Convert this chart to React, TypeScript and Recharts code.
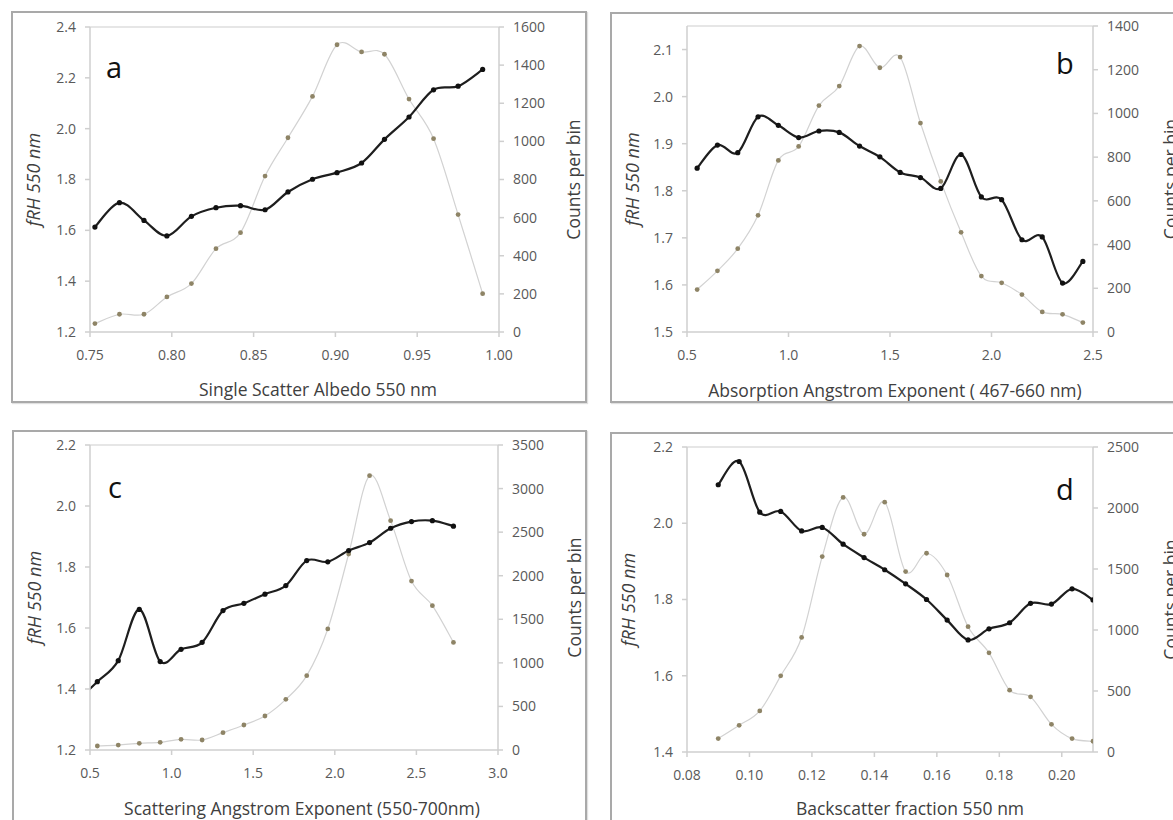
import React from 'react';
import { ComposedChart, Line, XAxis, YAxis, ReferenceLine, Label } from 'recharts';

// ---- Panel a: Single Scatter Albedo 550 nm ----
const albedoX = [0.753, 0.768, 0.783, 0.797, 0.812, 0.827, 0.842, 0.857, 0.871, 0.886, 0.901, 0.916, 0.930, 0.945, 0.960, 0.975, 0.990];
const albedoFRH = [1.613, 1.709, 1.639, 1.578, 1.655, 1.689, 1.697, 1.681, 1.751, 1.801, 1.827, 1.865, 1.958, 2.046, 2.153, 2.167, 2.233];
const albedoCounts = [44, 93, 93, 184, 254, 437, 521, 818, 1019, 1236, 1507, 1469, 1457, 1222, 1014, 616, 201];
const albedoXTicks = [0.75, 0.8, 0.85, 0.9, 0.95, 1.0];
const albedoLTicks = [1.2, 1.4, 1.6, 1.8, 2.0, 2.2, 2.4];
const albedoRTicks = [0, 200, 400, 600, 800, 1000, 1200, 1400, 1600];

// ---- Panel b: Absorption Angstrom Exponent ----
const aaeX = [0.55, 0.65, 0.75, 0.85, 0.95, 1.05, 1.15, 1.25, 1.35, 1.45, 1.55, 1.65, 1.75, 1.85, 1.95, 2.05, 2.15, 2.25, 2.35, 2.45];
const aaeFRH = [1.848, 1.897, 1.881, 1.957, 1.939, 1.913, 1.927, 1.924, 1.895, 1.872, 1.839, 1.828, 1.805, 1.877, 1.787, 1.781, 1.696, 1.702, 1.604, 1.650];
const aaeCounts = [194, 280, 381, 534, 785, 849, 1036, 1125, 1308, 1209, 1258, 956, 689, 456, 256, 225, 171, 92, 81, 43];
const aaeXTicks = [0.5, 1.0, 1.5, 2.0, 2.5];
const aaeLTicks = [1.5, 1.6, 1.7, 1.8, 1.9, 2.0, 2.1];
const aaeRTicks = [0, 200, 400, 600, 800, 1000, 1200, 1400];

// ---- Panel c: Scattering Angstrom Exponent ----
const saeX = [0.417, 0.545, 0.673, 0.802, 0.930, 1.058, 1.187, 1.315, 1.443, 1.572, 1.700, 1.828, 1.957, 2.085, 2.213, 2.342, 2.470, 2.598, 2.727];
const saeFRH = [1.36, 1.424, 1.493, 1.661, 1.490, 1.530, 1.553, 1.657, 1.681, 1.711, 1.739, 1.821, 1.817, 1.854, 1.880, 1.927, 1.949, 1.952, 1.934];
const saeCounts = [null, 46, 57, 77, 88, 122, 115, 199, 287, 390, 581, 853, 1389, 2249, 3148, 2632, 1939, 1656, 1235];
const saeXTicks = [0.5, 1.0, 1.5, 2.0, 2.5, 3.0];
const saeLTicks = [1.2, 1.4, 1.6, 1.8, 2.0, 2.2];
const saeRTicks = [0, 500, 1000, 1500, 2000, 2500, 3000, 3500];

// ---- Panel d: Backscatter fraction 550 nm ----
const bsfX = [0.0900, 0.0967, 0.1033, 0.1100, 0.1167, 0.1233, 0.1300, 0.1367, 0.1433, 0.1500, 0.1567, 0.1633, 0.1700, 0.1767, 0.1833, 0.1900, 0.1967, 0.2033, 0.2100];
const bsfFRH = [2.101, 2.162, 2.029, 2.031, 1.980, 1.989, 1.945, 1.910, 1.878, 1.841, 1.800, 1.746, 1.694, 1.723, 1.739, 1.790, 1.788, 1.828, 1.799];
const bsfCounts = [110, 219, 337, 624, 939, 1602, 2087, 1785, 2048, 1479, 1629, 1451, 1027, 813, 507, 452, 227, 110, 88];
const bsfXTicks = [0.08, 0.1, 0.12, 0.14, 0.16, 0.18, 0.2];
const bsfLTicks = [1.4, 1.6, 1.8, 2.0, 2.2];
const bsfRTicks = [0, 500, 1000, 1500, 2000, 2500];

const build = (xs: number[], f: (number | null)[], c: (number | null)[]) =>
  xs.map((x, i) => ({ x, frh: f[i], counts: c[i] }));

// Excel-like smoothed line (Catmull-Rom via cubic Bezier)
const excelSmooth = (context: any) => {
  let pts: number[][] = [];
  return {
    areaStart() {},
    areaEnd() {},
    lineStart() {
      pts = [];
    },
    lineEnd() {
      const n = pts.length;
      if (!n) return;
      context.moveTo(pts[0][0], pts[0][1]);
      if (n === 1) {
        context.lineTo(pts[0][0], pts[0][1]);
        return;
      }
      for (let i = 0; i < n - 1; i++) {
        const p0 = pts[i > 0 ? i - 1 : i];
        const p1 = pts[i];
        const p2 = pts[i + 1];
        const p3 = pts[i + 2 < n ? i + 2 : i + 1];
        context.bezierCurveTo(
          p1[0] + (p2[0] - p0[0]) / 6,
          p1[1] + (p2[1] - p0[1]) / 6,
          p2[0] - (p3[0] - p1[0]) / 6,
          p2[1] - (p3[1] - p1[1]) / 6,
          p2[0],
          p2[1]
        );
      }
    },
    point(x: number, y: number) {
      pts.push([+x, +y]);
    },
  };
};

const FONT = '"Open Sans", "DejaVu Sans", sans-serif';
const TICK = { fill: '#595959', fontSize: 14, fontFamily: FONT };
const AXIS_STROKE = '#cfcfcf';

type Cfg = {
  fx: number; fy: number; fw: number; fh: number;
  px0: number; px1: number; py0: number; py1: number;
  data: any[];
  xDomain: [number, number]; xTicks: number[]; xDec: number;
  lDomain: [number, number]; lTicks: number[]; lDec: number;
  rDomain: [number, number]; rTicks: number[];
  xTitle: string; xTitleCx: number; xTitleCy: number;
  lTitleCx: number; rTitleCx: number;
  letter: string; letterX: number; letterY: number;
};

const LW = 50;
const RW = 60;
const XH = 30;

const Panel = ({ c }: { c: Cfg }) => {
  const margin = {
    top: c.py0 - c.fy,
    left: c.px0 - c.fx - LW,
    right: c.fx + c.fw - c.px1 - RW,
    bottom: c.fy + c.fh - c.py1 - XH,
  };
  const midY = (c.py0 + c.py1) / 2 - c.fy;
  const lx = c.lTitleCx - c.fx;
  const rx = c.rTitleCx - c.fx;
  return (
    <>
      <div
        style={{
          position: 'absolute',
          left: c.fx,
          top: c.fy,
          width: c.fw,
          height: c.fh,
          boxSizing: 'border-box',
          border: '2px solid #a9a9a9',
          boxShadow: '1px 1px 1px rgba(0,0,0,0.12)',
          background: '#fff',
        }}
      />
      <div style={{ position: 'absolute', left: c.fx, top: c.fy }}>
        <ComposedChart width={c.fw} height={c.fh} data={c.data} margin={margin} style={{ fontFamily: FONT }}>
          <XAxis
            type="number"
            dataKey="x"
            domain={c.xDomain}
            ticks={c.xTicks}
            allowDataOverflow
            height={XH}
            tick={TICK}
            tickSize={5}
            tickMargin={13}
            stroke={AXIS_STROKE}
            strokeWidth={1.5}
            tickFormatter={(v: number) => v.toFixed(c.xDec)}
            interval={0}
          >
            <Label
              content={() => (
                <text
                  x={c.xTitleCx - c.fx}
                  y={c.xTitleCy - c.fy}
                  textAnchor="middle"
                  dominantBaseline="central"
                  fill="#404040"
                  fontSize={17.5}
                  fontFamily={FONT}
                >
                  {c.xTitle}
                </text>
              )}
            />
          </XAxis>
          <YAxis
            yAxisId="l"
            orientation="left"
            domain={c.lDomain}
            ticks={c.lTicks}
            allowDataOverflow
            width={LW}
            tick={TICK}
            tickSize={5}
            tickMargin={9}
            stroke={AXIS_STROKE}
            strokeWidth={1.5}
            tickFormatter={(v: number) => v.toFixed(c.lDec)}
            interval={0}
          >
            <Label
              content={() => (
                <text
                  x={lx}
                  y={midY}
                  transform={`rotate(-90 ${lx} ${midY})`}
                  textAnchor="middle"
                  dominantBaseline="central"
                  fill="#404040"
                  fontSize={18}
                  fontStyle="italic"
                  fontFamily={FONT}
                >
                  fRH 550 nm
                </text>
              )}
            />
          </YAxis>
          <YAxis
            yAxisId="r"
            orientation="right"
            domain={c.rDomain}
            ticks={c.rTicks}
            allowDataOverflow
            width={RW}
            tick={TICK}
            tickSize={5}
            tickMargin={9}
            stroke={AXIS_STROKE}
            strokeWidth={1.5}
            interval={0}
          >
            <Label
              content={() => (
                <text
                  x={rx}
                  y={midY}
                  transform={`rotate(-90 ${rx} ${midY})`}
                  textAnchor="middle"
                  dominantBaseline="central"
                  fill="#404040"
                  fontSize={17.5}
                  fontFamily={FONT}
                >
                  Counts per bin
                </text>
              )}
            />
          </YAxis>
          <ReferenceLine yAxisId="l" y={c.lDomain[1]} stroke="#dedede" strokeWidth={1.5} />
          <Line
            yAxisId="r"
            dataKey="counts"
            type={excelSmooth as any}
            stroke="#d2d2d2"
            strokeWidth={1.2}
            dot={{ r: 2.4, fill: '#8e8466', stroke: 'none' }}
            activeDot={false}
            isAnimationActive={false}
            connectNulls={false}
          />
          <Line
            yAxisId="l"
            dataKey="frh"
            type={excelSmooth as any}
            stroke="#1e1e1e"
            strokeWidth={2.2}
            dot={{ r: 2.6, fill: '#111', stroke: 'none' }}
            activeDot={false}
            isAnimationActive={false}
          />
        </ComposedChart>
      </div>
      <div
        style={{
          position: 'absolute',
          left: c.letterX,
          top: c.letterY,
          fontFamily: FONT,
          fontSize: 29,
          lineHeight: '29px',
          color: '#111',
        }}
      >
        {c.letter}
      </div>
    </>
  );
};

const panels: Cfg[] = [
  {
    fx: 11, fy: 11, fw: 576, fh: 392,
    px0: 90, px1: 499, py0: 27, py1: 332,
    data: build(albedoX, albedoFRH, albedoCounts),
    xDomain: [0.75, 1.0], xTicks: albedoXTicks, xDec: 2,
    lDomain: [1.2, 2.4], lTicks: albedoLTicks, lDec: 1,
    rDomain: [0, 1600], rTicks: albedoRTicks,
    xTitle: 'Single Scatter Albedo 550 nm', xTitleCx: 318, xTitleCy: 389,
    lTitleCx: 33, rTitleCx: 573,
    letter: 'a', letterX: 106, letterY: 52,
  },
  {
    fx: 610, fy: 12, fw: 580, fh: 391,
    px0: 687, px1: 1093, py0: 26, py1: 332,
    data: build(aaeX, aaeFRH, aaeCounts),
    xDomain: [0.5, 2.5], xTicks: aaeXTicks, xDec: 1,
    lDomain: [1.5, 2.15], lTicks: aaeLTicks, lDec: 1,
    rDomain: [0, 1400], rTicks: aaeRTicks,
    xTitle: 'Absorption  Angstrom Exponent ( 467-660 nm)', xTitleCx: 895, xTitleCy: 390,
    lTitleCx: 632, rTitleCx: 1170,
    letter: 'b', letterX: 1056, letterY: 48,
  },
  {
    fx: 12, fy: 430, fw: 575, fh: 395,
    px0: 90, px1: 498, py0: 445, py1: 750,
    data: build(saeX, saeFRH, saeCounts),
    xDomain: [0.5, 3.0], xTicks: saeXTicks, xDec: 1,
    lDomain: [1.2, 2.2], lTicks: saeLTicks, lDec: 1,
    rDomain: [0, 3500], rTicks: saeRTicks,
    xTitle: 'Scattering Angstrom Exponent (550-700nm)', xTitleCx: 302, xTitleCy: 808,
    lTitleCx: 34, rTitleCx: 574,
    letter: 'c', letterX: 108, letterY: 472,
  },
  {
    fx: 610, fy: 432, fw: 580, fh: 393,
    px0: 687, px1: 1093, py0: 447, py1: 752,
    data: build(bsfX, bsfFRH, bsfCounts),
    xDomain: [0.08, 0.21], xTicks: bsfXTicks, xDec: 2,
    lDomain: [1.4, 2.2], lTicks: bsfLTicks, lDec: 1,
    rDomain: [0, 2500], rTicks: bsfRTicks,
    xTitle: 'Backscatter fraction 550 nm', xTitleCx: 910, xTitleCy: 808,
    lTitleCx: 628, rTitleCx: 1170,
    letter: 'd', letterX: 1056, letterY: 474,
  },
];

export default function App() {
  return (
    <div
      style={{
        position: 'absolute',
        left: 0,
        top: 0,
        width: 1173,
        height: 820,
        overflow: 'hidden',
        background: '#fff',
      }}
    >
      {panels.map((p) => (
        <Panel key={p.letter} c={p} />
      ))}
    </div>
  );
}
